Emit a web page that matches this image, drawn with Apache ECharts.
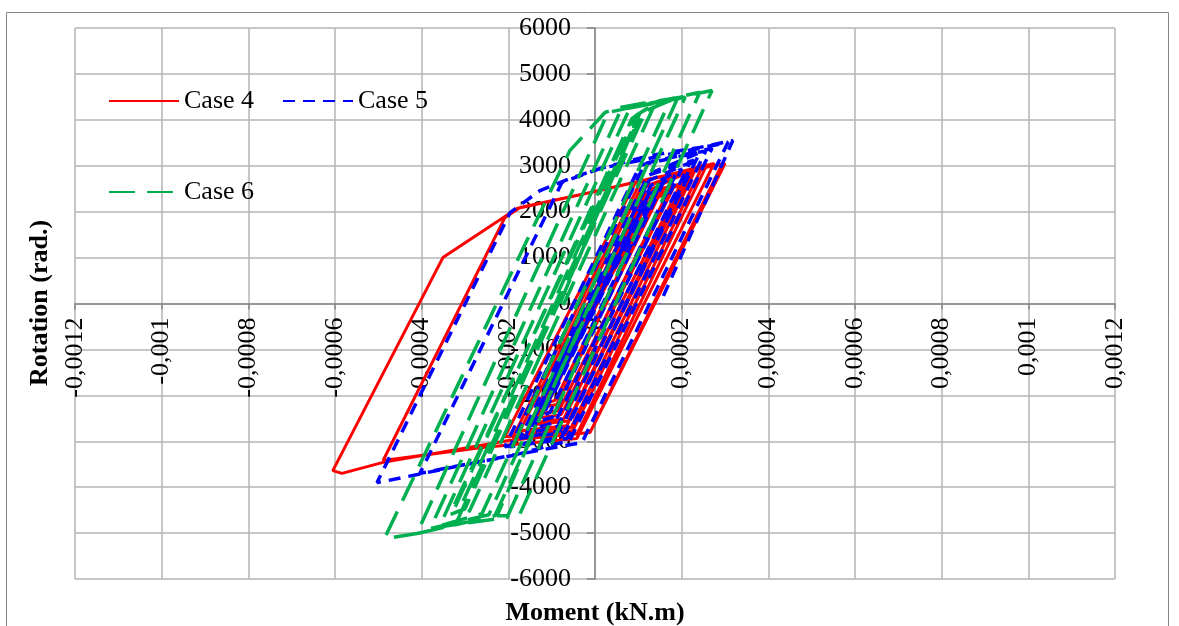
<!DOCTYPE html>
<html><head><meta charset="utf-8">
<script src="https://cdn.jsdelivr.net/npm/echarts@6/dist/echarts.min.js"></script>
<style>html,body{margin:0;padding:0;background:#fff}#c{width:1179px;height:626px}</style>
</head><body><div id="c"></div>
<script>
// ---- axis ticks ----
const X_MIN = -0.0012, X_MAX = 0.0012, X_STEP = 0.0002;
const Y_MIN = -6000, Y_MAX = 6000, Y_STEP = 1000;
const xTickLabels = ['-0,0012','-0,001','-0,0008','-0,0006','-0,0004','-0,0002','0','0,0002','0,0004','0,0006','0,0008','0,001','0,0012'];
const yTickLabels = ['-6000','-5000','-4000','-3000','-2000','-1000','0','1000','2000','3000','4000','5000','6000'];
const seriesNames = ['Case 4','Case 5','Case 6'];

// ---- series data [x, y] ----
const case4 = [
[0,0],
[0.000138,2240],[-0.000092,-2110],[-0.000108,-2160],[0.000115,2090],
[0.000145,2300],[-0.000088,-2200],[-0.000115,-2250],[0.000112,2150],
[0.000168,2420],[-0.000083,-2330],[-0.000127,-2400],[0.000122,2290],
[0.000180,2500],[-0.000078,-2420],[-0.000135,-2500],[0.000118,2360],
[0.000196,2570],[-0.000072,-2510],[-0.000150,-2610],[0.000115,2420],
[0.000205,2620],[-0.000062,-2560],[-0.000140,-2640],[0.000125,2470],
[0.000224,2900],[-0.000065,-2660],[-0.000173,-2770],[0.000106,2510],
[0.000232,2920],[-0.000055,-2700],[-0.000160,-2800],[0.000118,2560],
[0.000249,3010],[-0.000051,-2770],[-0.000208,-2900],[0.000092,2610],
[0.000258,3020],[-0.000040,-2820],[-0.000190,-2920],[0.000105,2650],
[0.000275,3050],[-0.000042,-2940],[-0.000265,-3140],[-0.000489,-3420],[-0.000208,1870],[-0.000173,2090],[-0.0000185,2400],[0.000127,2720],
[0.000300,3050],[-0.0000115,-2810],[-0.000196,-2980],[-0.000489,-3460],[-0.000584,-3700],[-0.000605,-3640],[-0.000351,1000],[-0.000180,2070],[-0.0000185,2400],[0.000104,2660],[0.000242,2960],[0.000293,3030],[0.000002,-2550]
];
const case5 = [
[0,0],
[0.000150,2570],[-0.000104,-2370],[-0.000120,-2440],[0.000127,2350],
[0.000160,2680],[-0.000098,-2480],[-0.000130,-2560],[0.000128,2460],
[0.000185,2790],[-0.000092,-2590],[-0.000143,-2720],[0.000129,2570],
[0.000200,2930],[-0.000086,-2680],[-0.000158,-2830],[0.000125,2680],
[0.000219,3070],[-0.000081,-2770],[-0.000173,-2940],[0.000122,2790],
[0.000228,3120],[-0.000069,-2810],[-0.000162,-2920],[0.000132,2850],
[0.000242,3290],[-0.000076,-2900],[-0.000208,-3120],[0.000104,3010],
[0.000256,3330],[-0.000065,-2940],[-0.000196,-3120],[0.000115,3050],
[0.000270,3380],[-0.000058,-2980],[-0.000173,-3270],[-0.000404,-3700],[-0.000076,2640],[0.0000115,2940],
[0.000307,3510],[-0.000030,-3030],[-0.000097,-3140],[-0.000289,-3490],[-0.000480,-3860],[-0.000503,-3900],[-0.000196,1980],[-0.000127,2460],[-0.000058,2720],[0.0000115,2940],[0.000127,3220],[0.000242,3400],[0.000318,3550],[0.000150,0]
];
const case6 = [
[-0.000081,0],
[0.000104,4160],[-0.000309,-4400],[-0.000323,-4440],[0.0000854,4030],
[0.000120,4250],[-0.000300,-4470],[-0.000335,-4600],[0.000095,4100],
[0.000138,4340],[-0.000289,-4510],[-0.000318,-4730],[0.000108,4160],
[0.000173,4420],[-0.000261,-4580],[-0.000358,-4840],[0.000081,4270],
[0.000190,4460],[-0.000245,-4600],[-0.000380,-4900],[0.000060,4220],
[0.000208,4490],[-0.000231,-4620],[-0.000411,-5010],[0.000030,4160],
[0.000242,4600],[-0.000203,-4660],[-0.000342,-4840],[-0.000411,-5010],[-0.000469,-5100],[-0.000485,-5100],[-0.000058,3330],[0.000023,4160],[0.000058,4270],[0.000111,4360],[0.000196,4490],
[0.000270,4640],[-0.000175,-4620],[-0.000226,-4620],[-0.0000115,0]
];

const FONT = "'Liberation Serif', 'Times New Roman', serif";
const chart = echarts.init(document.getElementById('c'), null, {renderer: 'canvas'});

// grid geometry
const G_LEFT = 75, G_RIGHT = 64, G_TOP = 28, G_BOTTOM = 47, W = 1179, H = 626;
const plotW = W - G_LEFT - G_RIGHT, plotH = H - G_TOP - G_BOTTOM;
const zeroFromLeft = (0 - X_MIN) / (X_MAX - X_MIN) * plotW;
const zeroFromBottom = (0 - Y_MIN) / (Y_MAX - Y_MIN) * plotH;

const legendText = {fontFamily: FONT, fontSize: 26, color: '#000'};
function mkLegend(name, left, top) {
  return {data: [name], left: left, top: top, itemWidth: 70, itemHeight: 14, padding: 0,
    selectedMode: false, textStyle: legendText, itemStyle: {opacity: 0}};
}

const option = {
  animation: false,
  backgroundColor: '#fff',
  grid: {left: G_LEFT, right: G_RIGHT, top: G_TOP, bottom: G_BOTTOM, containLabel: false, outerBoundsMode: 'none'},
  xAxis: {
    type: 'value', min: X_MIN, max: X_MAX, interval: X_STEP, position: 'bottom',
    offset: -zeroFromBottom,
    axisLine: {onZero: false, lineStyle: {color: '#868686', width: 1.5}},
    axisTick: {show: true, length: 6, lineStyle: {color: '#868686', width: 1.5}},
    axisLabel: {rotate: 90, margin: 14, fontFamily: FONT, fontSize: 26, color: '#000',
      formatter: v => xTickLabels[Math.round((v - X_MIN) / X_STEP)]},
    splitLine: {show: true, lineStyle: {color: '#b5b5b5', width: 1.5}}
  },
  yAxis: {
    type: 'value', min: Y_MIN, max: Y_MAX, interval: Y_STEP, position: 'left',
    offset: -zeroFromLeft,
    axisLine: {onZero: false, lineStyle: {color: '#868686', width: 1.5}},
    axisTick: {show: true, length: 8, lineStyle: {color: '#868686', width: 1.5}},
    axisLabel: {margin: 24, fontFamily: FONT, fontSize: 26, color: '#000',
      formatter: v => yTickLabels[Math.round((v - Y_MIN) / Y_STEP)]},
    splitLine: {show: true, lineStyle: {color: '#b5b5b5', width: 1.5}}
  },
  legend: [mkLegend(seriesNames[0], 108, 88), mkLegend(seriesNames[1], 282, 88), mkLegend(seriesNames[2], 108, 179)],
  series: [
    {name: seriesNames[0], type: 'line', data: case4, symbol: 'none', silent: true,
      lineStyle: {color: '#ff0000', width: 3, type: 'solid'}, itemStyle: {color: '#ff0000'}},
    {name: seriesNames[1], type: 'line', data: case5, symbol: 'none', silent: true,
      lineStyle: {color: '#0000ff', width: 3.5, type: [12, 8]}, itemStyle: {color: '#0000ff'}},
    {name: seriesNames[2], type: 'line', data: case6, symbol: 'none', silent: true,
      lineStyle: {color: '#00b050', width: 3.5, type: [26, 12]}, itemStyle: {color: '#00b050'}}
  ],
  graphic: [
    {type: 'rect', silent: true, z: -1, shape: {x: 6.5, y: 12.5, width: 1162, height: 700},
      style: {fill: 'none', stroke: '#868686', lineWidth: 1}},
    {type: 'text', silent: true, x: 595, y: 613,
      style: {text: 'Moment (kN.m)', align: 'center', verticalAlign: 'middle',
        font: "bold 26px 'Liberation Serif', serif", fill: '#000'}},
    {type: 'text', silent: true, x: 40, y: 303, rotation: Math.PI / 2,
      style: {text: 'Rotation (rad.)', align: 'center', verticalAlign: 'middle',
        font: "bold 26px 'Liberation Serif', serif", fill: '#000'}}
  ]
};
chart.setOption(option);
</script>
</body></html>
